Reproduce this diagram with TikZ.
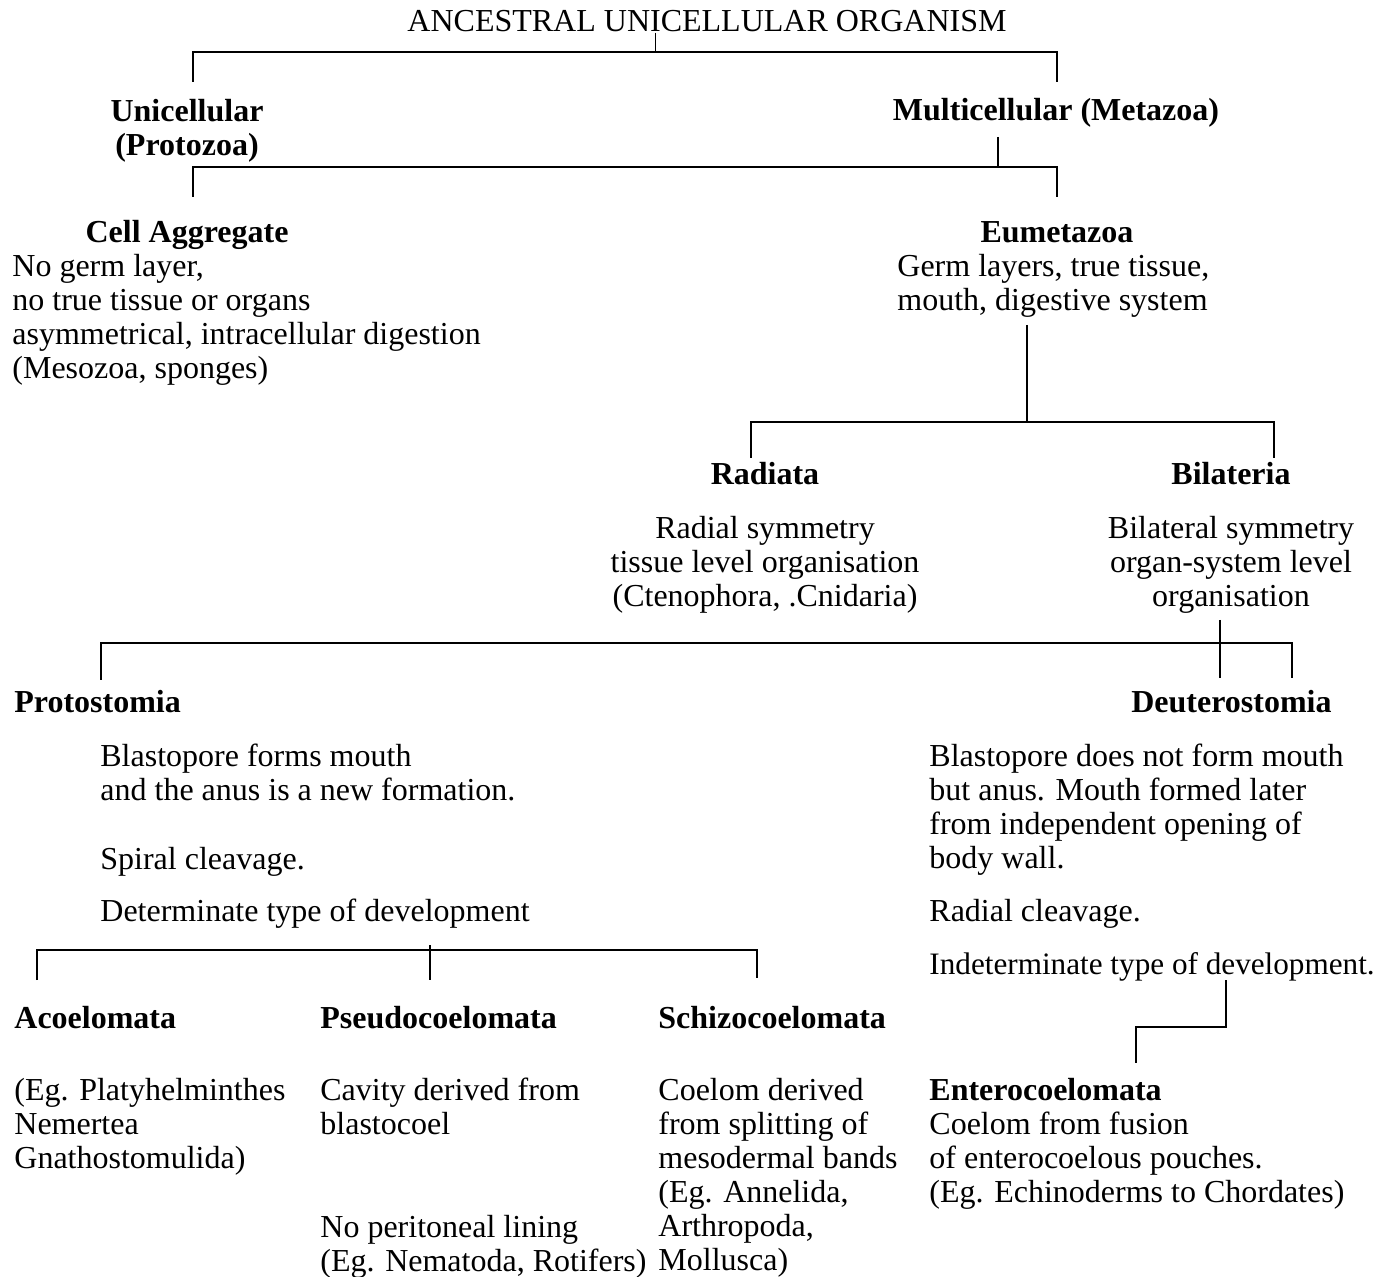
\documentclass[tikz,border=0pt]{standalone}
\usepackage{fontspec}
\setmainfont{Liberation Serif}

\begin{document}
\begin{tikzpicture}[x=0.5pt, y=-0.5pt,
    % Define the styles for the chart
    every node/.style={inner sep=0pt, font=\fontsize{16}{17}\selectfont},
    head/.style={font=\fontsize{16}{17}\selectfont\bfseries},
    txt/.style={align=left, anchor=north west},
    ctxt/.style={align=center, anchor=north},
    link/.style={line width=1.1pt}
]
\useasboundingbox (0,0) rectangle (1381,1277);

% Define the nodes of the chart
\node (root) at (707,32) [anchor=base] {ANCESTRAL UNICELLULAR ORGANISM};
\node (uni) at (187,99) [head, ctxt] {Unicellular\\(Protozoa)};
\node (multi) at (1056,116) [head, anchor=mid] {Multicellular (Metazoa)};
\node (cell) at (187,238) [head, anchor=mid] {Cell Aggregate};
\node (celltxt) at (12,254) [txt] {No germ layer,\\no true tissue or organs\\asymmetrical, intracellular digestion\\(Mesozoa, sponges)};
\node (eume) at (1057,238) [head, anchor=mid] {Eumetazoa};
\node (eumetxt) at (897,254) [txt] {Germ layers, true tissue,\\mouth, digestive system};
\node (radi) at (765,480) [head, anchor=mid] {Radiata};
\node (raditxt) at (765,516) [ctxt] {Radial symmetry\\tissue level organisation\\(Ctenophora, .Cnidaria)};
\node (bila) at (1231,480) [head, anchor=mid] {Bilateria};
\node (bilatxt) at (1231,516) [ctxt] {Bilateral symmetry\\organ-system level\\organisation};
\node (proto) at (14,708) [head, anchor=mid west] {Protostomia};
\node (deut) at (1332,708) [head, anchor=mid east] {Deuterostomia};
\node (prototxt) at (100,744) [txt] {Blastopore forms mouth\\and the anus is a new formation.};
\node (spiral) at (100,865) [anchor=mid west] {Spiral cleavage.};
\node (determ) at (100,917) [anchor=mid west] {Determinate type of development};
\node (deuttxt) at (929,744) [txt] {Blastopore does not form mouth\\but anus. Mouth formed later\\from independent opening of\\body wall.};
\node (radial) at (929,917) [anchor=mid west] {Radial cleavage.};
\node (indet) at (929,970) [anchor=mid west, font=\fontsize{15.6}{17}\selectfont] {Indeterminate type of development.};
\node (acoel) at (14,1024) [head, anchor=mid west] {Acoelomata};
\node (pseudo) at (320,1024) [head, anchor=mid west] {Pseudocoelomata};
\node (schizo) at (658,1024) [head, anchor=mid west] {Schizocoelomata};
\node (acoeltxt) at (14,1078) [txt] {(Eg. Platyhelminthes\\Nemertea\\Gnathostomulida)};
\node (pseudotxt) at (320,1078) [txt] {Cavity derived from\\blastocoel};
\node (pseudoeg) at (320,1215) [txt] {No peritoneal lining\\(Eg. Nematoda, Rotifers)};
\node (schizotxt) at (658,1078) [txt] {Coelom derived\\from splitting of\\mesodermal bands\\(Eg. Annelida,\\Arthropoda,\\Mollusca)};
\node (entero) at (929,1078) [txt] {\textbf{Enterocoelomata}\\Coelom from fusion\\of enterocoelous pouches.\\(Eg. Echinoderms to Chordates)};

% Define the points of the brackets
\coordinate (a0) at (655,52);
\coordinate (a1) at (193,82);
\coordinate (a2) at (1057,82);
\coordinate (b0) at (998,137);
\coordinate (b1) at (193,197);
\coordinate (b2) at (1057,197);
\coordinate (c0) at (1027,325);
\coordinate (c1) at (751,458);
\coordinate (c2) at (1274,458);
\coordinate (d0) at (1220,620);
\coordinate (d1) at (101,680);
\coordinate (d2) at (1292,678);
\coordinate (e0) at (430,945);
\coordinate (e1) at (37,980);
\coordinate (e2) at (757,978);
\coordinate (f0) at (1226,980);
\coordinate (f1) at (1136,1063);

% Draw the brackets
\draw[line width=0.5pt] (root.south -| a0) -- (a0);
\draw[link] (a1) -- ++(0,-30) -| (a2);
\draw[link] (b0) -- ++(0,30);
\draw[link] (b1) -- ++(0,-30) -| (b2);
\draw[link] (c0) -- ++(0,97);
\draw[link] (c1) -- ++(0,-36) -| (c2);
\draw[link] (d0) -- ++(0,58);
\draw[link] (d1) -- ++(0,-37) -| (d2);
\draw[link] (e0) -- ++(0,35);
\draw[link] (e1) -- ++(0,-30) -| (e2);
\draw[link] (f0) -- ++(0,47) -| (f1);

\end{tikzpicture}
\end{document}
